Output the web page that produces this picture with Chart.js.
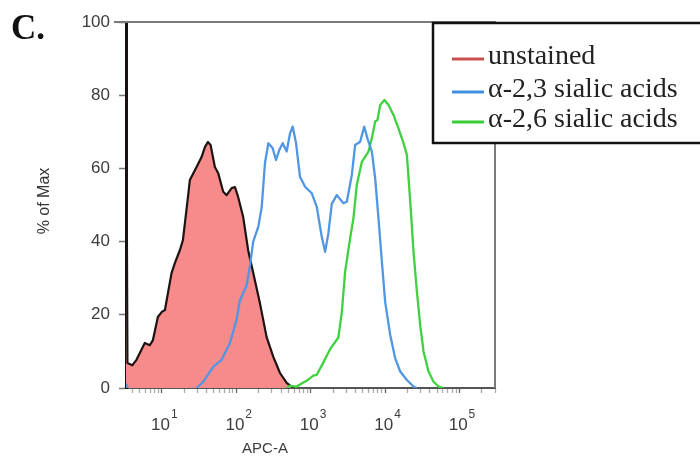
<!DOCTYPE html>
<html><head><meta charset="utf-8">
<script src="https://cdn.jsdelivr.net/npm/chart.js@4.4.1/dist/chart.umd.min.js"></script>
<style>html,body{margin:0;padding:0;background:#fff;}#wrap{width:700px;height:463px;position:relative;}</style>
</head><body><div id="wrap"><canvas id="c" width="700" height="463"></canvas></div>
<script>
// ---- data ----
const seriesNames = ['unstained', 'α-2,3 sialic acids', 'α-2,6 sialic acids'];
const panelLabel = 'C.';
const xTitle = 'APC-A';
const yTitle = '% of Max';
const yTicks = [0, 20, 40, 60, 80, 100];
const xTickBase = '10';
const xTickExps = [1, 2, 3, 4, 5];

const unstainedX = [3.3, 3.45, 4.0, 4.56, 5.9, 6.89, 7.57, 8.84, 10, 11, 13.5, 15, 17.5, 19.2, 22.4, 23.8, 29.3, 34.2, 37.9, 41.6, 45.2, 51.6, 57.3, 66.8, 74.3, 86.7, 96.1, 106, 124, 145, 169, 208, 256, 315, 387, 476, 585];
const unstainedY = [100, 6.8, 6.2, 7.7, 12.3, 11.7, 13, 19.4, 20.8, 21.3, 31.4, 34.2, 37.7, 40.4, 52, 56.8, 60.4, 63.1, 65.8, 67.2, 66.4, 60.4, 58.7, 53.6, 52.7, 54.6, 54.9, 52.2, 46.7, 37.5, 31.5, 23.2, 13.9, 8.5, 4.1, 1.4, 0];

const a23X = [3.3, 3.5, 10, 29.3, 36, 49, 63.5, 82.2, 101, 112, 138, 153, 169, 198, 220, 243, 270, 309, 342, 379, 421, 476, 528, 574, 636, 719, 841, 1035, 1208, 1410, 1563, 1730, 1923, 2244, 2754, 3062, 3573, 3963, 4624, 5236, 5794, 6637, 7362, 8147, 9057, 10020, 11720, 13680, 15960, 19630, 24100, 26790];
const a23Y = [1.2, 0, null, 0, 1.7, 5.8, 7.7, 12.3, 18.6, 24, 28.1, 33.5, 40, 44.1, 49.5, 61.4, 66.9, 65.5, 62.3, 65, 66.9, 64.6, 69.6, 71.4, 66.9, 57.7, 55, 53.2, 49.5, 41.3, 37.2, 42.3, 50.3, 52.7, 50.5, 50.9, 58.2, 66.4, 67.3, 71.4, 68.2, 64.6, 57.3, 46.4, 34.5, 23.6, 14.5, 8.1, 4.5, 2.2, 0.4, 0];

const a26X = [476, 528, 650, 798, 887, 1087, 1208, 1483, 1824, 2360, 2624, 2904, 3388, 3758, 4169, 4875, 5984, 6637, 7362, 7907, 8590, 9817, 11120, 12970, 15140, 17700, 19630, 21780, 24100, 26790, 29650, 32890, 38370, 44770, 52360, 61090];
const a26Y = [0, 0.6, 0.4, 1.5, 2.0, 3.4, 3.6, 7.0, 10.6, 13.8, 20.8, 31.8, 40.9, 46.4, 55.5, 61.8, 64.6, 68.2, 72.8, 73.2, 77.3, 78.7, 77.3, 74.6, 70.9, 66.9, 63.7, 50.9, 37.2, 26.3, 17.2, 9.9, 4.5, 1.7, 0.4, 0];

// ---- styles ----
const legendColors = ['#c9504f', '#3f8fe0', '#35cc35'];
const sansFont = '"Liberation Sans", Arial, sans-serif';
const pts = (xs, ys) => xs.map((x, i) => ({x: x, y: ys[i]}));

const decor = {
  id: 'decor',
  afterDraw(chart) {
    const ctx = chart.ctx, a = chart.chartArea, xs = chart.scales.x;
    ctx.save();
    // frame top & right
    ctx.strokeStyle = '#7a7a7a'; ctx.lineWidth = 2;
    ctx.beginPath(); ctx.moveTo(a.left - 12, a.top); ctx.lineTo(a.right, a.top); ctx.lineTo(a.right, a.bottom); ctx.stroke();
    // x tick labels
    ctx.fillStyle = '#3c3c3c'; ctx.textBaseline = 'alphabetic'; ctx.textAlign = 'left';
    xTickExps.forEach(e => {
      const px = xs.getPixelForValue(Math.pow(10, e));
      ctx.font = '17px ' + sansFont;
      const w1 = ctx.measureText(xTickBase).width;
      ctx.font = '12px ' + sansFont;
      const w2 = ctx.measureText(String(e)).width;
      const x0 = px - (w1 + w2) / 2 + 2;
      ctx.font = '17px ' + sansFont;
      ctx.fillText(xTickBase, x0, a.bottom + 42);
      ctx.font = '12px ' + sansFont;
      ctx.fillText(String(e), x0 + w1 + 1, a.bottom + 30);
    });
    // axis titles
    ctx.font = '15px ' + sansFont;
    ctx.textAlign = 'center'; ctx.textBaseline = 'middle';
    ctx.fillText(xTitle, a.left + 139, a.bottom + 61);
    ctx.save();
    ctx.translate(45, (a.top + a.bottom) / 2 - 4);
    ctx.rotate(-Math.PI / 2);
    ctx.fillStyle = '#333';
    ctx.font = '16px ' + sansFont;
    ctx.fillText(yTitle, 0, 0);
    ctx.restore();
    // panel label
    ctx.fillStyle = '#111'; ctx.textAlign = 'left'; ctx.textBaseline = 'alphabetic';
    ctx.font = 'bold 35px "Liberation Serif", "Times New Roman", serif';
    ctx.fillText(panelLabel, 11, 39);
    // legend
    const L = a.right - 62, T = a.top + 1;
    ctx.fillStyle = '#fff';
    ctx.fillRect(L, T, 300, 120);
    ctx.strokeStyle = '#111'; ctx.lineWidth = 2.5;
    ctx.strokeRect(L, T, 300, 120);
    const rows = [36, 69, 99];
    chart.data.datasets.forEach((d, i) => {
      ctx.strokeStyle = legendColors[i]; ctx.lineWidth = 3;
      ctx.beginPath(); ctx.moveTo(L + 19, T + rows[i]); ctx.lineTo(L + 51, T + rows[i]); ctx.stroke();
      ctx.fillStyle = '#222';
      ctx.font = '28px "Liberation Serif", "Times New Roman", serif';
      ctx.fillText(d.label, L + 55, T + rows[i] + 4.5);
    });
    ctx.restore();
  }
};

new Chart(document.getElementById('c'), {
  type: 'line',
  data: {
    datasets: [
      {label: seriesNames[0], data: pts(unstainedX, unstainedY), borderColor: '#1c1414', borderWidth: 2.2, backgroundColor: '#f78a8a', fill: 'origin', order: 3},
      {label: seriesNames[1], data: pts(a23X, a23Y), borderColor: '#5096e2', borderWidth: 2.3, fill: false, order: 1},
      {label: seriesNames[2], data: pts(a26X, a26Y), borderColor: '#40d040', borderWidth: 2.3, fill: false, order: 2}
    ]
  },
  options: {
    responsive: false, animation: false, devicePixelRatio: 1,
    parsing: true, spanGaps: false,
    elements: {point: {radius: 0}, line: {tension: 0, borderJoinStyle: 'round'}},
    layout: {padding: {left: 0, top: 22, right: 205, bottom: 0}},
    plugins: {legend: {display: false}, tooltip: {enabled: false}},
    scales: {
      x: {
        type: 'logarithmic', min: 3.3, max: 300000,
        afterBuildTicks(s) {
          const t = [];
          for (let e = 0; e <= 5; e++) {
            for (let m = 1; m <= 9; m++) {
              const v = m * Math.pow(10, e);
              if (v >= 3.3 && v <= 300000) t.push({value: v, major: m === 1});
            }
          }
          s.ticks = t;
        },
        afterFit(s) { s.height = 75; },
        ticks: {display: false},
        grid: {drawOnChartArea: false, drawTicks: true, tickLength: 5, tickWidth: 1.3,
               tickColor: (c) => (c.tick && c.tick.major) ? '#666' : '#aaa'},
        border: {color: '#555', width: 2}
      },
      y: {
        min: 0, max: 100,
        afterBuildTicks(s) { s.ticks = yTicks.map(v => ({value: v})); },
        afterFit(s) { s.width = 126; },
        ticks: {color: '#3c3c3c', padding: 9, font: {family: sansFont, size: 17}},
        grid: {drawOnChartArea: false, drawTicks: true, tickLength: 7, tickColor: '#777', tickWidth: 1.5},
        border: {color: '#111', width: 3}
      }
    }
  },
  plugins: [decor]
});
</script></body></html>
